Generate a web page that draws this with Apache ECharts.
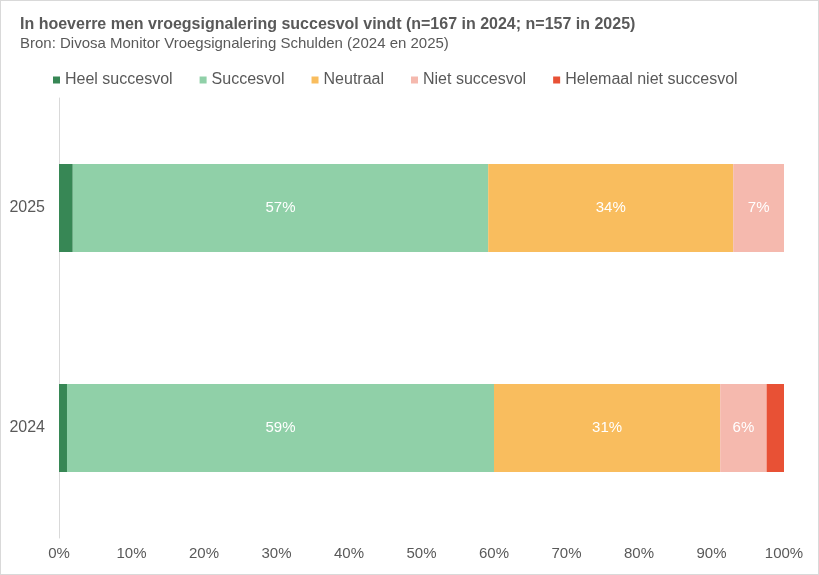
<!DOCTYPE html>
<html>
<head>
<meta charset="utf-8">
<script src="https://cdn.jsdelivr.net/npm/echarts@6/dist/echarts.min.js"></script>
<style>
	html, body { margin: 0; padding: 0; background: #fff; }
	#chart { width: 817px; height: 573px; border: 1px solid #d9d9d9; }
</style>
</head>
<body>
<div id="chart"></div>
<script>
var jaren = ['2024', '2025'];
var heelSuccesvol = [1.1, 1.9];
var succesvol = [58.9, 57.3];
var neutraal = [31.2, 33.8];
var nietSuccesvol = [6.4, 7.0];
var helemaalNiet = [2.4, 0];
var tickLabels = ['0%', '10%', '20%', '30%', '40%', '50%', '60%', '70%', '80%', '90%', '100%'];

var fontFam = '"Liberation Sans", Arial, sans-serif';
var grijs = '#595959';

function reeks(naam, data, kleur) {
	return {
		name: naam,
		type: 'bar',
		stack: 'totaal',
		barWidth: '40%',
		data: data,
		itemStyle: { color: kleur },
		label: {
			show: true,
			color: '#fff',
			fontFamily: fontFam,
			fontSize: 15,
			formatter: function (p) {
				return p.value >= 5 ? Math.round(p.value) + '%' : '';
			}
		}
	};
}

var chart = echarts.init(document.getElementById('chart'));
var option = {
	animation: false,
	textStyle: { fontFamily: fontFam },
	title: {
		text: 'In hoeverre men vroegsignalering succesvol vindt (n=167 in 2024; n=157 in 2025)',
		subtext: 'Bron: Divosa Monitor Vroegsignalering Schulden (2024 en 2025)',
		left: 14,
		top: 11,
		itemGap: 3,
		textStyle: { fontFamily: fontFam, fontSize: 16, fontWeight: 'bold', color: grijs },
		subtextStyle: { fontFamily: fontFam, fontSize: 15, color: grijs }
	},
	legend: {
		top: 66,
		left: 47,
		itemWidth: 7,
		itemHeight: 7,
		itemGap: 27,
		icon: 'rect',
		textStyle: { fontFamily: fontFam, fontSize: 16, color: grijs },
		data: ['Heel succesvol', 'Succesvol', 'Neutraal', 'Niet succesvol', 'Helemaal niet succesvol']
	},
	grid: { left: 58, right: 34, top: 97, bottom: 36 },
	xAxis: {
		type: 'value',
		min: 0,
		max: 100,
		interval: 10,
		splitLine: { show: false },
		axisLine: { show: false },
		axisTick: { show: false },
		axisLabel: {
			color: grijs,
			fontSize: 15,
			margin: 8,
			formatter: function (v) { return tickLabels[v / 10]; }
		}
	},
	yAxis: {
		type: 'category',
		data: jaren,
		axisLine: { show: true, lineStyle: { color: '#d9d9d9' } },
		axisTick: { show: false },
		axisLabel: { color: grijs, fontSize: 16, margin: 14 }
	},
	series: [
		reeks('Heel succesvol', heelSuccesvol, '#378755'),
		reeks('Succesvol', succesvol, '#90d0a8'),
		reeks('Neutraal', neutraal, '#f9bd5e'),
		reeks('Niet succesvol', nietSuccesvol, '#f5b9ae'),
		reeks('Helemaal niet succesvol', helemaalNiet, '#e85135')
	]
};
chart.setOption(option);
</script>
</body>
</html>
